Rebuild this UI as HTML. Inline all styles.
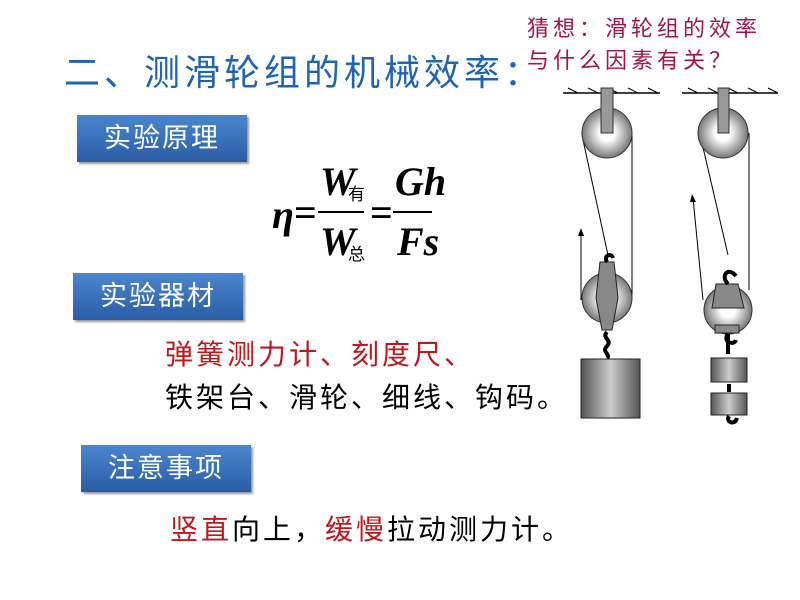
<!DOCTYPE html>
<html><head><meta charset="utf-8"><style>
body{margin:0;width:800px;height:600px;background:#fff;position:relative;overflow:hidden;font-family:"Liberation Sans","Noto Sans CJK SC",sans-serif}
.a{position:absolute;white-space:nowrap}
.box{position:absolute;background:linear-gradient(#4a86cf,#2a5da6);color:#fff;font-size:27px;letter-spacing:2px;text-align:center;line-height:47px;height:47px;width:170px;box-shadow:2px 2px 2px #999}
.r{color:#c0161c}
</style></head><body>
<div class="a" style="left:527px;top:13px;font-size:22px;letter-spacing:4px;color:#a3154a;line-height:32px">猜想：滑轮组的效率<br>与什么因素有关？</div>
<div class="a" style="left:64px;top:44px;font-size:36px;letter-spacing:4px;color:#1f63b4">二、测滑轮组的机械效率：</div>
<div class="box" style="left:77px;top:115px">实验原理</div>
<div class="box" style="left:73px;top:273px">实验器材</div>
<div class="box" style="left:81px;top:445px">注意事项</div>
<svg class="a" style="left:260px;top:150px" width="200" height="120">
<g font-family="Liberation Serif,serif" font-weight="bold" font-style="italic" font-size="40">
<text x="12" y="78">η</text><text x="34" y="76" font-style="normal">=</text>
<text x="60" y="45">W</text><text x="60" y="105">W</text>
<text x="110" y="76" font-style="normal">=</text>
<text x="135" y="45">Gh</text><text x="137" y="105">Fs</text>
</g>
<text x="88" y="50" font-size="17" font-family="Noto Sans CJK SC,sans-serif">有</text>
<text x="88" y="110" font-size="17" font-family="Noto Sans CJK SC,sans-serif">总</text>
<line x1="58" y1="62" x2="104" y2="62" stroke="#000" stroke-width="2"/>
<line x1="133" y1="62" x2="172" y2="62" stroke="#000" stroke-width="2"/>
</svg>
<div class="a r" style="left:165px;top:333px;font-size:28px;letter-spacing:3px">弹簧测力计、刻度尺、</div>
<div class="a" style="left:165px;top:376px;font-size:28px;letter-spacing:3px">铁架台、滑轮、细线、钩码。</div>
<div class="a" style="left:170px;top:508px;font-size:28px;letter-spacing:3px"><span class="r">竖直</span>向上，<span class="r">缓慢</span>拉动测力计。</div>
<svg class="a" style="left:0;top:0" width="800" height="600">
<defs><radialGradient id="p"><stop offset="0.3" stop-color="#fff"/><stop offset="1" stop-color="#777"/></radialGradient>
<linearGradient id="w"><stop offset="0" stop-color="#555"/><stop offset="0.5" stop-color="#ccc"/><stop offset="1" stop-color="#555"/></linearGradient></defs>
<g stroke="#000" stroke-width="1.5">
<line x1="563" y1="93" x2="660" y2="93"/><line x1="682" y1="93" x2="778" y2="93"/>
</g>
<g stroke="#000" stroke-width="1" fill="none">
<path d="M568 88l10 5M588 88l10 5M608 88l10 5M628 88l10 5M648 88l10 5M688 88l10 5M708 88l10 5M728 88l10 5M748 88l10 5M768 88l10 5"/>
<line x1="583" y1="140" x2="608" y2="255"/><line x1="632" y1="133" x2="632" y2="295"/>
<line x1="702" y1="143" x2="728" y2="255"/><line x1="749" y1="133" x2="749" y2="290"/>
<line x1="581" y1="300" x2="581" y2="232"/><line x1="703" y1="300" x2="693" y2="198"/>
</g>
<path d="M578 236l3-8 3 8z M690 202l2-8 4 8z" fill="#000"/>
<g stroke="#333" fill="url(#p)">
<circle cx="607" cy="133" r="25"/><circle cx="723" cy="133" r="25"/>
<circle cx="607" cy="298" r="25"/><circle cx="728" cy="310" r="24"/>
</g>
<rect x="601" y="88" width="12" height="45" fill="#999" stroke="#333"/>
<rect x="718" y="88" width="11" height="45" fill="#999" stroke="#333"/>
<path d="M600 262 L614 262 L618 298 L612 330 L602 330 L596 298Z" fill="#888" stroke="#222"/>
<path d="M716 284 L738 284 L744 308 L712 308Z" fill="#888" stroke="#222"/>
<rect x="715" y="325" width="24" height="8" fill="#888" stroke="#222"/>
<g stroke="#000" stroke-width="4" fill="none">
<path d="M607 262c-4-6 4-10 6-4"/><path d="M607 332c-6 6 6 8 0 14 -6 6 4 8 0 12"/>
<path d="M728 284c-8-8 0-18 8-8"/><path d="M728 334c-6 8 6 12 8 6 M728 334v20"/>
<path d="M729 384v8"/><path d="M729 416c-4 6 6 10 8 2"/>
</g>
<rect x="581" y="359" width="59" height="59" fill="url(#w)" stroke="#222"/>
<rect x="711" y="358" width="36" height="24" fill="url(#w)" stroke="#222"/>
<rect x="711" y="393" width="36" height="22" fill="url(#w)" stroke="#222"/>
</svg>
</body></html>
